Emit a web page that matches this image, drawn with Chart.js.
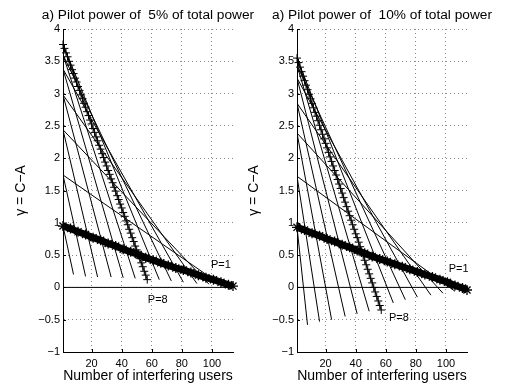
<!DOCTYPE html>
<html>
<head>
<meta charset="utf-8">
<script src="https://cdn.jsdelivr.net/npm/chart.js@4.4.1/dist/chart.umd.min.js"></script>
<style>
  html, body { margin: 0; padding: 0; background: #fff; }
  body { width: 505px; height: 387px; position: relative; overflow: hidden; }
  canvas { position: absolute; top: 0; }
  #left { left: 0; }
  #right { left: 240px; }
</style>
</head>
<body>
<canvas id="left" width="260" height="387"></canvas>
<canvas id="right" width="265" height="387"></canvas>
<script>
/* global Chart */

// axes
const xTicks = [20, 40, 60, 80, 100];
const zeroLineX = [1, 114];
const firstUser = 1;

// every curve starts at K=1 from one of these values (pairs: one steep, one shallow)
const leftStart = [0.95, 1.74, 2.44, 2.98, 3.38, 3.6, 3.76];
const rightStart = [0.93, 1.72, 2.39, 2.85, 3.24, 3.44, 3.55];

// steep curves (start index 0..5)
const steepEndX = [8, 16, 24, 33, 41, 49];
const leftSteepEndY = [0.2, 0.17, 0.16, 0.16, 0.15, 0.14];
const rightSteepEndY = [-0.58, -0.53, -0.5, -0.45, -0.41, -0.37];

// shallow curves (start index 1..6)
const shallowEndX = [106, 98, 90, 81, 73, 65];
const leftShallowEndY = [0.04, 0.05, 0.06, 0.08, 0.1, 0.12];
const rightShallowEndY = [-0.06, -0.09, -0.12, -0.15, -0.19, -0.24];

// P=8 curve, "+" markers at every user count
const plusX = [
  1, 2, 3, 4, 5, 6, 7, 8, 9, 10, 11, 12, 13, 14, 15, 16, 17, 18, 19, 20,
  21, 22, 23, 24, 25, 26, 27, 28, 29, 30, 31, 32, 33, 34, 35, 36, 37, 38, 39, 40,
  41, 42, 43, 44, 45, 46, 47, 48, 49, 50, 51, 52, 53, 54, 55, 56, 57,
];
const leftPlusY = [
  3.76, 3.7, 3.63, 3.57, 3.5, 3.44, 3.37, 3.31, 3.24, 3.18,
  3.11, 3.05, 2.98, 2.92, 2.85, 2.79, 2.72, 2.66, 2.59, 2.53,
  2.46, 2.4, 2.33, 2.27, 2.2, 2.14, 2.07, 2.01, 1.94, 1.88,
  1.81, 1.75, 1.68, 1.62, 1.55, 1.49, 1.42, 1.36, 1.29, 1.23,
  1.16, 1.1, 1.03, 0.97, 0.9, 0.84, 0.77, 0.71, 0.64, 0.58,
  0.51, 0.45, 0.38, 0.32, 0.25, 0.19, 0.12,
];
const rightPlusY = [
  3.55, 3.48, 3.41, 3.34, 3.27, 3.2, 3.13, 3.06, 2.99, 2.92,
  2.85, 2.78, 2.71, 2.65, 2.58, 2.51, 2.44, 2.37, 2.3, 2.23,
  2.16, 2.09, 2.02, 1.95, 1.88, 1.81, 1.74, 1.67, 1.6, 1.53,
  1.46, 1.39, 1.32, 1.25, 1.18, 1.11, 1.04, 0.97, 0.9, 0.83,
  0.77, 0.7, 0.63, 0.56, 0.49, 0.42, 0.35, 0.28, 0.21, 0.14,
  0.07, 0.0, -0.07, -0.14, -0.21, -0.28, -0.35,
];

// P=1 curve, "*" markers
const starX = [1, 6, 11, 16, 21, 26, 31, 36, 41, 46, 51, 56, 61, 66, 71, 76, 81, 86, 91, 96, 101, 106, 111, 114];
const leftStarY = [0.95, 0.91, 0.86, 0.82, 0.77, 0.73, 0.68, 0.64, 0.59, 0.55, 0.51, 0.46, 0.42, 0.38, 0.34, 0.3, 0.27, 0.23, 0.19, 0.15, 0.12, 0.08, 0.04, 0.02];
const rightStarY = [0.93, 0.89, 0.84, 0.8, 0.75, 0.71, 0.66, 0.62, 0.57, 0.53, 0.48, 0.44, 0.4, 0.36, 0.32, 0.28, 0.24, 0.2, 0.16, 0.12, 0.08, 0.03, -0.01, -0.04];

const FONT = '"Liberation Sans", Arial, Helvetica, sans-serif';
Chart.defaults.font.family = FONT;
Chart.defaults.color = "#000";

// MATLAB-ish extras: inward ticks, title over the axes, P labels
const panelExtras = {
  id: "panelExtras",
  afterDraw(chart, args, opts) {
    const { ctx, chartArea: a, scales } = chart;
    const x = scales.x;
    const y = scales.y;
    ctx.save();
    ctx.strokeStyle = "#000";
    ctx.lineWidth = 1;
    ctx.beginPath();
    y.ticks.forEach((t) => {
      const py = Math.round(y.getPixelForValue(t.value)) + 0.5;
      ctx.moveTo(a.left, py);
      ctx.lineTo(a.left + 3, py);
    });
    x.ticks.forEach((t) => {
      const px = Math.round(x.getPixelForValue(t.value)) + 0.5;
      ctx.moveTo(px, a.bottom);
      ctx.lineTo(px, a.bottom - 3);
    });
    ctx.stroke();
    ctx.fillStyle = "#000";
    ctx.textAlign = "center";
    ctx.textBaseline = "middle";
    ctx.font = "13.7px " + FONT;
    ctx.fillText(opts.title, (a.left + a.right) / 2, 15);
    ctx.font = "11px " + FONT;
    opts.labels.forEach((l) => {
      ctx.fillText(l.text, x.getPixelForValue(l.x), y.getPixelForValue(l.y));
    });
    ctx.restore();
  },
};

function thinLine(points) {
  return {
    data: points,
    showLine: true,
    borderColor: "#000",
    borderWidth: 1,
    pointRadius: 0,
    tension: 0,
  };
}

function buildDatasets(start, steepEndY, shallowEndY, plusY, starY) {
  const datasets = [];
  datasets.push(
    thinLine([
      { x: zeroLineX[0], y: 0 },
      { x: zeroLineX[1], y: 0 },
    ])
  );
  steepEndX.forEach((ex, i) => {
    datasets.push(
      thinLine([
        { x: firstUser, y: start[i] },
        { x: ex, y: steepEndY[i] },
      ])
    );
  });
  shallowEndX.forEach((ex, j) => {
    datasets.push(
      thinLine([
        { x: firstUser, y: start[j + 1] },
        { x: ex, y: shallowEndY[j] },
      ])
    );
  });
  datasets.push({
    data: plusX.map((v, i) => ({ x: v, y: plusY[i] })),
    showLine: true,
    borderColor: "#000",
    borderWidth: 1,
    pointStyle: "cross",
    pointRadius: 4,
    pointBorderWidth: 1,
    pointBorderColor: "#000",
    clip: 10,
  });
  datasets.push({
    data: starX.map((v, i) => ({ x: v, y: starY[i] })),
    showLine: true,
    borderColor: "#000",
    borderWidth: 7,
    pointStyle: "star",
    pointRadius: 5,
    pointBorderWidth: 1.3,
    pointBorderColor: "#000",
    pointBackgroundColor: "#000",
    clip: 10,
  });
  return datasets;
}

function makePanel(canvasId, cfg) {
  const axisGrid = {
    color: "#8a8a8a",
    lineWidth: 1,
    drawTicks: false,
  };
  const axisBorder = { color: "#000", width: 1, dash: [1, 3] };
  return new Chart(document.getElementById(canvasId), {
    type: "scatter",
    data: { datasets: cfg.datasets },
    options: {
      responsive: false,
      animation: false,
      devicePixelRatio: 1,
      layout: { padding: { left: 0, right: cfg.padRight, top: 29, bottom: 0 } },
      plugins: {
        legend: { display: false },
        tooltip: { enabled: false },
        panelExtras: { title: cfg.title, labels: cfg.labels },
      },
      scales: {
        x: {
          type: "linear",
          min: 1,
          max: 114,
          afterBuildTicks: (s) => {
            s.ticks = xTicks.map((v) => ({ value: v }));
          },
          afterFit: (s) => {
            s.height = 35;
          },
          ticks: { font: { size: 11 }, padding: 5, maxRotation: 0, autoSkip: false },
          grid: axisGrid,
          border: axisBorder,
          title: {
            display: true,
            text: "Number of interfering users",
            font: { size: 14 },
            padding: { top: 0, bottom: 2.6 },
          },
        },
        y: {
          type: "linear",
          min: -1,
          max: 4,
          afterFit: (s) => {
            s.width = cfg.yWidth;
          },
          ticks: {
            stepSize: 0.5,
            font: { size: 11 },
            padding: 3,
            callback: (v) => (v < 0 ? "\u2212" + Math.abs(v) : String(v)),
          },
          grid: axisGrid,
          border: axisBorder,
          title: {
            display: true,
            text: "\u03b3 = C\u2212A",
            font: { size: 14 },
            padding: { top: cfg.yTitlePad, bottom: 0 },
          },
        },
      },
    },
    plugins: [panelExtras],
  });
}

makePanel("left", {
  title: "a) Pilot power of  5% of total power",
  datasets: buildDatasets(leftStart, leftSteepEndY, leftShallowEndY, leftPlusY, leftStarY),
  labels: [
    { text: "P=1", x: 106, y: 0.34 },
    { text: "P=8", x: 64, y: -0.19 },
  ],
  padRight: 27,
  yWidth: 63,
  yTitlePad: 12.6,
});

makePanel("right", {
  title: "a) Pilot power of  10% of total power",
  datasets: buildDatasets(rightStart, rightSteepEndY, rightShallowEndY, rightPlusY, rightStarY),
  labels: [
    { text: "P=1", x: 108.5, y: 0.29 },
    { text: "P=8", x: 68.7, y: -0.47 },
  ],
  padRight: 38,
  yWidth: 57,
  yTitlePad: 5.6,
});
</script>
</body>
</html>
